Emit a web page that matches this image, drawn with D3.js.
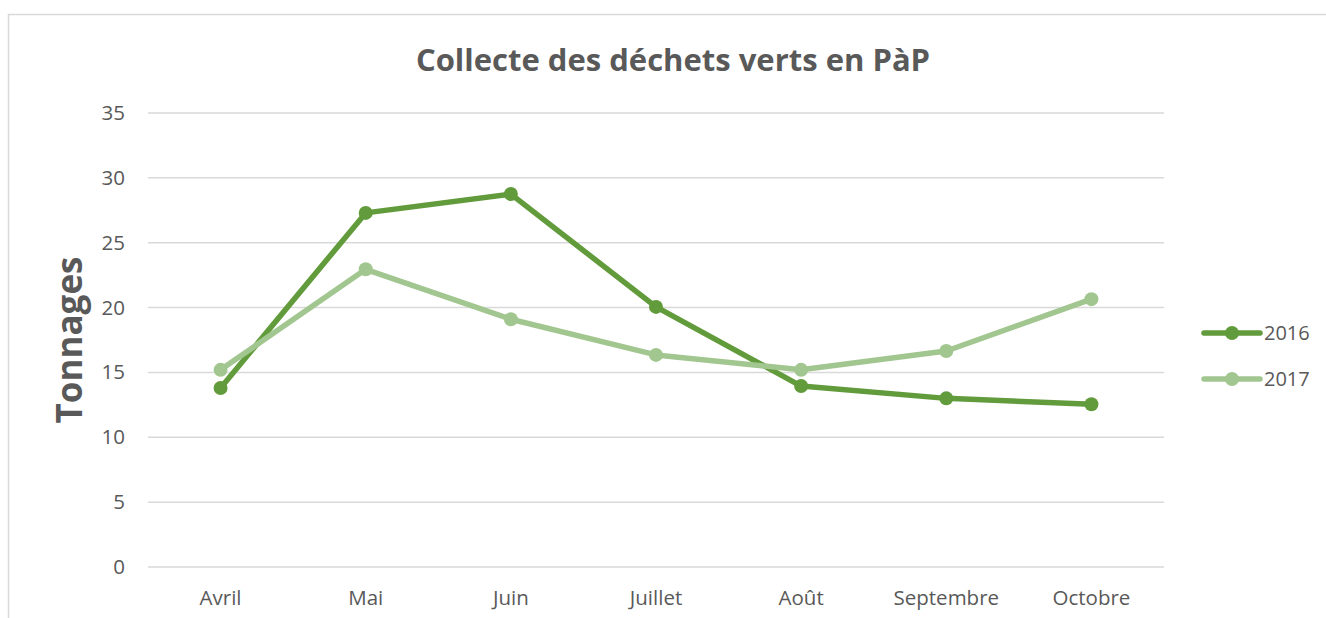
<!DOCTYPE html>
<html>
  <head>
    <meta charset="utf-8" />
    <script src="https://d3js.org/d3.v7.min.js"></script>
    <style>
      body {
        margin: 0;
        background: #fff;
        font-family: "Open Sans", "Noto Sans", sans-serif;
      }
      .grid line {
        stroke: #d9d9d9;
        stroke-width: 1.5;
      }
      .tick text {
        fill: #595959;
        font-size: 20.5px;
        font-family: "Open Sans", "Noto Sans", sans-serif;
      }
    </style>
  </head>
  <body>
    <svg id="chart" width="1326" height="618"></svg>
    <script>
      // Data
      const months = ["Avril", "Mai", "Juin", "Juillet", "Août", "Septembre", "Octobre"];
      const values2016 = [13.8, 27.3, 28.75, 20.05, 13.95, 13.0, 12.55];
      const values2017 = [15.2, 22.95, 19.1, 16.35, 15.2, 16.65, 20.65];
      const yTicks = [0, 5, 10, 15, 20, 25, 30, 35];

      const series = [
        { name: "2016", values: values2016, color: "#629b3b" },
        { name: "2017", values: values2017, color: "#a2c68f" },
      ];

      const svg = d3.select("#chart");

      // chart frame
      svg
        .append("rect")
        .attr("x", 8.5)
        .attr("y", 14.5)
        .attr("width", 1340)
        .attr("height", 640)
        .attr("fill", "none")
        .attr("stroke", "#d9d9d9")
        .attr("stroke-width", 1.5);

      const x = d3.scaleBand().domain(months).range([148, 1164]);
      const y = d3.scaleLinear().domain([0, 35]).range([567, 113]);

      // gridlines
      svg
        .append("g")
        .attr("class", "grid")
        .selectAll("line")
        .data(yTicks)
        .join("line")
        .attr("x1", 148)
        .attr("x2", 1164)
        .attr("y1", (d) => y(d))
        .attr("y2", (d) => y(d));

      // y axis labels
      const yAxis = svg
        .append("g")
        .attr("transform", "translate(148,0)")
        .call(d3.axisLeft(y).tickValues(yTicks).tickSize(0).tickPadding(23));
      yAxis.select(".domain").remove();

      // x axis labels
      const xAxis = svg
        .append("g")
        .attr("transform", "translate(0,567)")
        .call(d3.axisBottom(x).tickSize(0).tickPadding(23));
      xAxis.select(".domain").remove();

      // title
      svg
        .append("text")
        .attr("x", 673)
        .attr("y", 71)
        .attr("text-anchor", "middle")
        .attr("fill", "#595959")
        .attr("font-size", 31)
        .attr("font-weight", "bold")
        .text("Collecte des déchets verts en PàP");

      // y axis title
      svg
        .append("text")
        .attr("transform", "translate(82,340) rotate(-90)")
        .attr("text-anchor", "middle")
        .attr("fill", "#595959")
        .attr("font-size", 35)
        .attr("font-weight", "bold")
        .text("Tonnages");

      const line = d3
        .line()
        .x((d, i) => x(months[i]) + x.bandwidth() / 2)
        .y((d) => y(d));

      series.forEach((s) => {
        const g = svg.append("g");
        g.append("path")
          .datum(s.values)
          .attr("fill", "none")
          .attr("stroke", s.color)
          .attr("stroke-width", 5.5)
          .attr("stroke-linejoin", "round")
          .attr("d", line);
        g.selectAll("circle")
          .data(s.values)
          .join("circle")
          .attr("cx", (d, i) => x(months[i]) + x.bandwidth() / 2)
          .attr("cy", (d) => y(d))
          .attr("r", 7)
          .attr("fill", s.color);
      });

      // legend
      const legend = svg
        .selectAll("g.legend")
        .data(series)
        .join("g")
        .attr("class", "legend")
        .attr("transform", (d, i) => `translate(1204,${333 + i * 46})`);
      legend
        .append("line")
        .attr("x1", 0)
        .attr("x2", 56)
        .attr("stroke", (d) => d.color)
        .attr("stroke-width", 5.5)
        .attr("stroke-linecap", "round");
      legend
        .append("circle")
        .attr("cx", 28)
        .attr("r", 7)
        .attr("fill", (d) => d.color);
      legend
        .append("text")
        .attr("x", 60)
        .attr("dy", "0.35em")
        .attr("fill", "#595959")
        .attr("font-size", 20)
        .text((d) => d.name);
    </script>
  </body>
</html>
